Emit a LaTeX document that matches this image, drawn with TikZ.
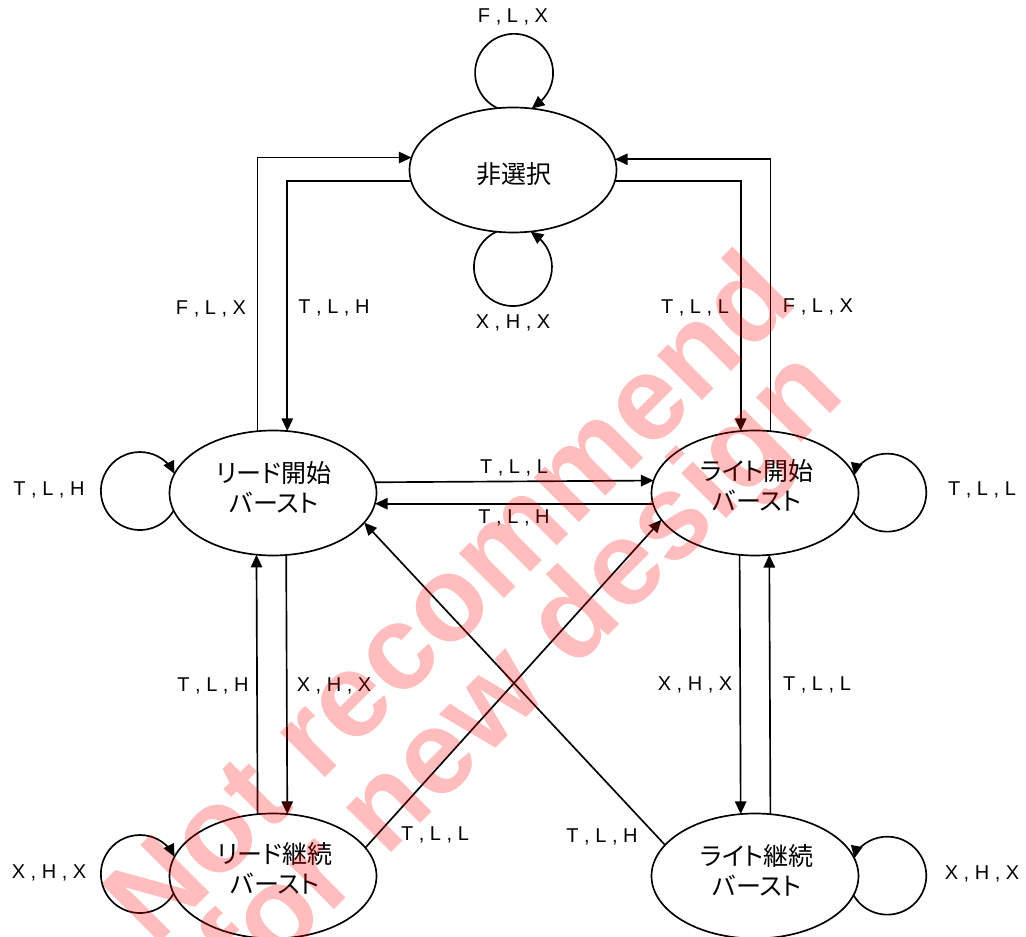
\documentclass[tikz,border=0pt]{standalone}
\usepackage{fontspec}
\setmainfont{Liberation Sans}
\newfontfamily\jpfont[RawFeature=+palt]{Noto Sans CJK JP}
\newfontfamily\wmfont{Liberation Sans}
\usetikzlibrary{shapes.geometric,arrows.meta}
\tikzset{
  st/.style={ellipse, draw, line width=1.25pt, minimum width=155.25pt, minimum height=93.75pt,
    inner sep=0pt, outer sep=0pt, fill=white},
  jp/.style={align=center, inner sep=0pt, font=\jpfont\fontsize{18.75pt}{22.5pt}\selectfont},
  lbl/.style={font=\fontsize{15pt}{18pt}\selectfont, inner sep=0pt},
  conn/.style={line width=1.25pt, -{Triangle[length=9.5pt,width=8.5pt]}},
  wm/.style={font=\wmfont\bfseries\fontsize{90pt}{75pt}\selectfont, text=red,
    text opacity=0.26, align=center, rotate=45, inner sep=0pt}
}
\begin{document}
\begin{tikzpicture}[x=0.75pt,y=-0.75pt]
\useasboundingbox (0,0) rectangle (1026,937);
% states
\node[st] (ns) at (513,170) {};
\node[st] (rs) at (273,493) {};
\node[st] (ws) at (755,493) {};
\node[st] (rc) at (273,876) {};
\node[st] (wc) at (755,876) {};
\node[jp] (nst) at (514,174) {非選択};
\node[jp] (rst) at (274,487) {リード開始\\バースト};
\node[jp] (wst) at (757,485) {ライト開始\\バースト};
\node[jp] (rct) at (275,868) {リード継続\\バースト};
\node[jp] (wct) at (757,870) {ライト継続\\バースト};
% orthogonal connectors to/from ns
\draw[conn] (rs.104.53) |- (ns.173.84);
\draw[conn] (ns.186.16) -| (rs.77.26);
\draw[conn] (ws.76.37) |- (ns.6.16);
\draw[conn] (ns.-6.16) -| (ws.103.63);
% horizontal
\draw[conn] (rs.6.16) -- (ws.173.84);
\draw[conn] (ws.186.74) -- (rs.-6.74);
% verticals
\draw[conn] (rc.104.53) -- (rs.255.47);
\draw[conn] (rs.282.74) -- (rc.77.26);
\draw[conn] (ws.256.37) -- (wc.103.63);
\draw[conn] (wc.76.37) -- (ws.283.63);
% diagonals
\draw[conn] (rc.17.7) -- (ws.196.2);
\draw[conn] (wc.161.2) -- (rs.342.9);
% self loops
\draw[conn] (ns.104.5) arc[start angle=245, end angle=-55, radius=29.25pt] -- (ns.73.7);
\draw[conn] (ns.255.5) arc[start angle=115, end angle=415, radius=29.25pt] -- (ns.286.3);
\draw[conn] (rs.190.65) arc[start angle=330, end angle=35, radius=29.25pt] -- (rs.169.1);
\draw[conn] (rc.190.65) arc[start angle=330, end angle=35, radius=29.25pt] -- (rc.169.1);
\draw[conn] (ws.349.35) arc[start angle=-150, end angle=145, radius=29.25pt] -- (ws.10.9);
\draw[conn] (wc.349.35) arc[start angle=-150, end angle=145, radius=29.25pt] -- (wc.10.9);
% labels
\node[lbl] (la) at (513,17) {F , L , X};
\node[lbl] (lb) at (513,323) {X , H , X};
\node[lbl] (lc) at (211,309) {F , L , X};
\node[lbl] (ld) at (334,308) {T , L , H};
\node[lbl] (le) at (695,308) {T , L , L};
\node[lbl] (lf) at (818,307) {F , L , X};
\node[lbl] (lg) at (49,490) {T , L , H};
\node[lbl] (lh) at (982,490) {T , L , L};
\node[lbl] (li) at (514,468) {T , L , L};
\node[lbl] (lj) at (514,518) {T , L , H};
\node[lbl] (lk) at (213,686) {T , L , H};
\node[lbl] (ll) at (334,686) {X , H , X};
\node[lbl] (lm) at (695,685) {X , H , X};
\node[lbl] (ln) at (817,685) {T , L , L};
\node[lbl] (lo) at (49,873) {X , H , X};
\node[lbl] (lp) at (982,874) {X , H , X};
\node[lbl] (lq) at (602,837) {T , L , H};
\node[lbl] (lr) at (435,835) {T , L , L};
% watermark
\node[wm] (wmk) at (491,639) {Not recommend\\for new design};
\end{tikzpicture}
\end{document}
